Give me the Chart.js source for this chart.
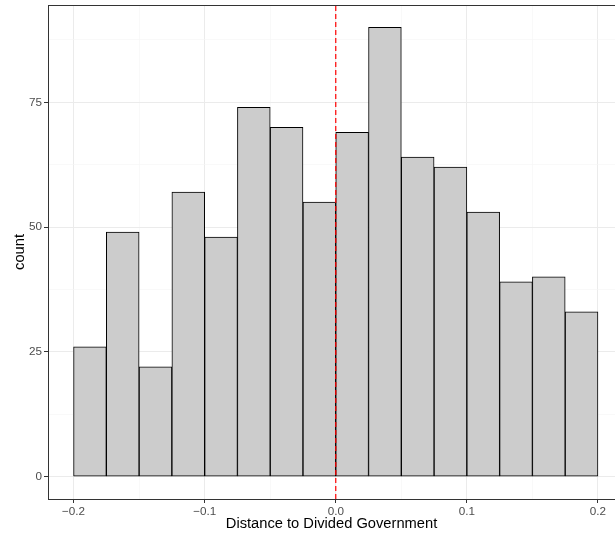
<!DOCTYPE html>
<html>
<head>
<meta charset="utf-8">
<script src="https://cdn.jsdelivr.net/npm/chart.js@4"></script>
<style>
html, body { margin:0; padding:0; background:#fff; overflow:hidden; }
#wrap { width:615px; height:537px; }
</style>
</head>
<body>
<div id="wrap"><canvas id="hist"></canvas></div>
<script>
// bin centres (width 0.025) and counts
var bin_centers = [-0.1875, -0.1625, -0.1375, -0.1125, -0.0875, -0.0625, -0.0375, -0.0125,
	0.0125, 0.0375, 0.0625, 0.0875, 0.1125, 0.1375, 0.1625, 0.1875];
var counts = [26, 49, 22, 57, 48, 74, 70, 55, 69, 90, 64, 62, 53, 39, 40, 33];
var x_ticks = [-0.2, -0.1, 0.0, 0.1, 0.2];
var y_ticks = [0, 25, 50, 75];
var vline_x = 0;

var bars = bin_centers.map(function(c, i){ return {x:c, y:counts[i]}; });

function isMajor(c, list){
	if (!c || !c.tick) return true;
	var v = c.tick.value;
	return list.some(function(t){ return Math.abs(t - v) < 1e-6; });
}
function fmt(v){
	return v.toFixed(1).replace('-', '\u2212');
}

var panelBorder = {
	id:'panelBorder',
	afterDraw:function(chart){
		var a = chart.chartArea, ctx = chart.ctx;
		ctx.save();
		ctx.strokeStyle = '#333333';
		ctx.lineWidth = 1;
		ctx.strokeRect(a.left + 0.5, a.top + 0.5, a.right - a.left + 20, a.bottom - a.top);
		ctx.restore();
	}
};

var hist = new Chart(document.getElementById("hist"), {
	type:'bar',
	data:{
		datasets:[{
			type:'line',
			data:[{x:vline_x, y:-4.5}, {x:vline_x, y:94.5}],
			borderColor:'#ff0000',
			borderWidth:1.2,
			borderDash:[5,3],
			pointRadius:0,
			fill:false,
			order:1
		},
		{
			data:bars,
			backgroundColor:'#cccccc',
			borderColor:'#000000',
			borderWidth:1,
			borderSkipped:false,
			barPercentage:1,
			categoryPercentage:1,
			grouped:false,
			order:2
		}]
	},
	options:{
		responsive:true,
		maintainAspectRatio:false,
		animation:false,
		layout:{padding:{top:5, right:0, left:0, bottom:0}},
		plugins:{legend:{display:false}, tooltip:{enabled:false}},
		scales:{
			x:{
				type:'linear',
				offset:false,
				min:-0.2195,
				max:0.213,
				afterFit:function(s){ s.height = 38; s.paddingLeft = 0; s.paddingRight = 0; },
				ticks:{
					stepSize:0.05,
					includeBounds:false,
					autoSkip:false,
					maxRotation:0,
					padding:2,
					color:'#4d4d4d',
					font:{family:'Liberation Sans, Arial, sans-serif', size:11.7},
					callback:function(v){
						return x_ticks.some(function(t){ return Math.abs(t - v) < 1e-6; }) ? fmt(v) : '';
					}
				},
				grid:{
					offset:false,
					color:function(c){ return isMajor(c, x_ticks) ? '#ebebeb' : '#f5f5f5'; },
					lineWidth:function(c){ return isMajor(c, x_ticks) ? 1 : 0.6; },
					tickColor:function(c){ return isMajor(c, x_ticks) ? '#333333' : 'rgba(0,0,0,0)'; },
					tickLength:4
				},
				border:{display:false},
				title:{
					display:true,
					text:'Distance to Divided Government',
					color:'#000000',
					padding:{top:4, bottom:4},
					font:{family:'Liberation Sans, Arial, sans-serif', size:14.7}
				}
			},
			y:{
				min:-4.5,
				max:94.5,
				afterFit:function(s){ s.width = 48; s.paddingTop = 0; s.paddingBottom = 0; },
				ticks:{
					stepSize:12.5,
					includeBounds:false,
					autoSkip:false,
					padding:2,
					color:'#4d4d4d',
					font:{family:'Liberation Sans, Arial, sans-serif', size:11.7},
					callback:function(v){
						return y_ticks.some(function(t){ return Math.abs(t - v) < 1e-6; }) ? String(v) : '';
					}
				},
				grid:{
					offset:false,
					color:function(c){ return isMajor(c, y_ticks) ? '#ebebeb' : '#f5f5f5'; },
					lineWidth:function(c){ return isMajor(c, y_ticks) ? 1 : 0.6; },
					tickColor:function(c){ return isMajor(c, y_ticks) ? '#333333' : 'rgba(0,0,0,0)'; },
					tickLength:4
				},
				border:{display:false},
				title:{
					display:true,
					text:'count',
					color:'#000000',
					padding:{top:11, bottom:4},
					font:{family:'Liberation Sans, Arial, sans-serif', size:14.7}
				}
			}
		}
	},
	plugins:[panelBorder]
});
</script>
</body>
</html>
